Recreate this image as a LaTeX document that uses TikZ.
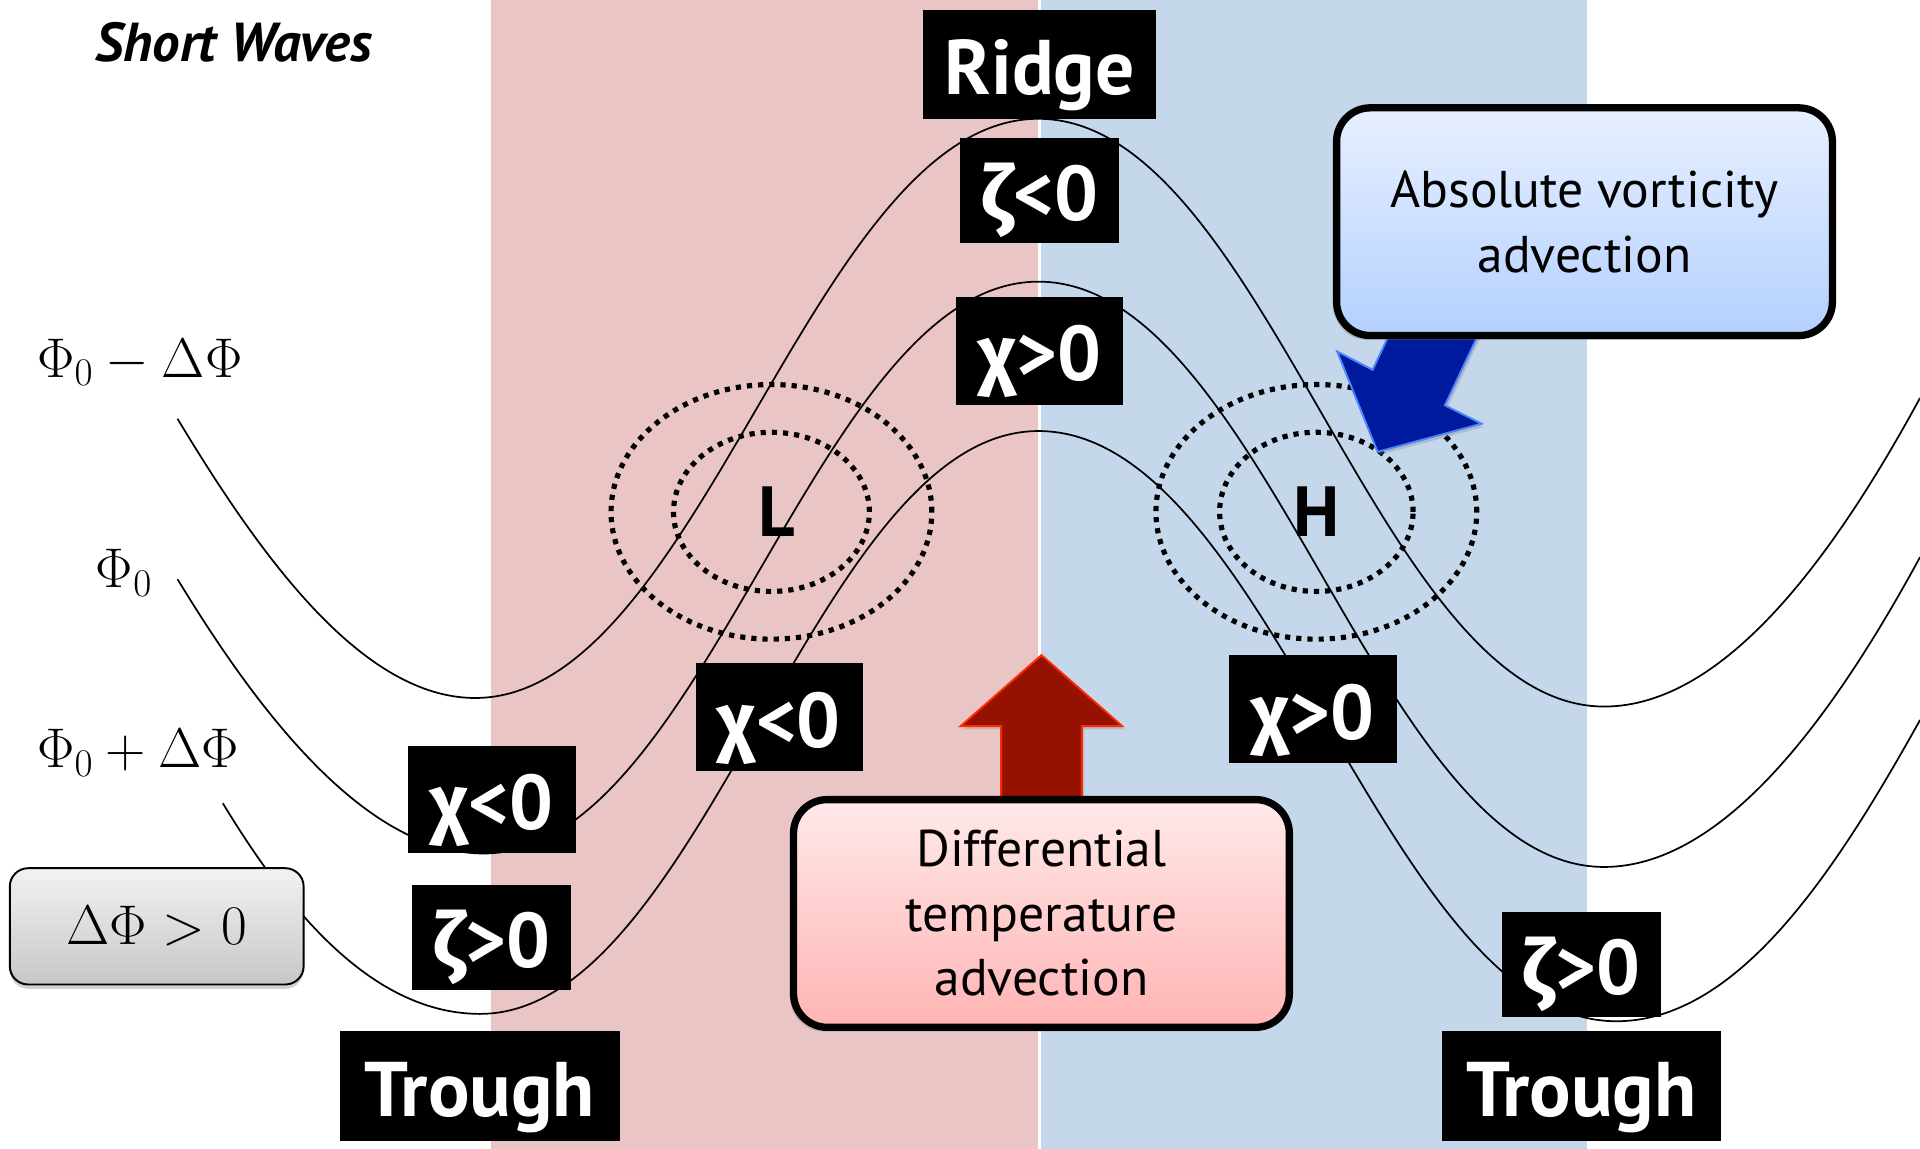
\RequirePackage{fix-cm}
\documentclass[tikz,border=0pt]{standalone}
\usepackage[no-math]{fontspec}
\setmainfont{PT Sans}
\newfontfamily\grk{Fira Sans}
\usetikzlibrary{positioning,shadows}

\definecolor{warmband}{HTML}{EAC5C5}
\definecolor{coldband}{HTML}{C5D7EB}
\definecolor{warmfill}{HTML}{961200}
\definecolor{warmedge}{HTML}{FF2A00}
\definecolor{coldfill}{HTML}{001A9E}
\definecolor{coldedge}{HTML}{4D85FF}
\definecolor{warmtop}{HTML}{FFE9E9}
\definecolor{warmbot}{HTML}{FFB4B4}
\definecolor{coldtop}{HTML}{E8F0FF}
\definecolor{coldbot}{HTML}{B3D0FF}
\tikzset{
  tag/.style={fill=black, text=white, inner sep=0pt, text height=28pt, text depth=0pt,
    font=\fontsize{36}{36}\selectfont\bfseries},
  signtag/.style={tag, minimum width=2.6cm, minimum height=1.72cm},
  chitag/.style={tag, minimum width=2.74cm, minimum height=1.76cm},
  placetag/.style={tag, minimum width=4.56cm, minimum height=1.8cm},
  pressure/.style={font=\fontsize{33}{33}\selectfont\bfseries, inner sep=0pt},
  isobar/.style={line width=2.4pt, dash pattern=on 2.4pt off 2.8pt},
  contour/.style={line width=0.8pt},
  level/.style={font=\fontsize{26}{26}\selectfont, inner sep=0pt, anchor=base west},
  advbox/.style={rectangle, rounded corners=0.55cm, draw=black, line width=3.4pt,
    minimum width=8.1cm, minimum height=3.72cm, align=center,
    font=\fontsize{24}{30}\selectfont,
    drop shadow={opacity=0.35, shadow xshift=-1.5pt, shadow yshift=-2pt}},
  keybox/.style={rectangle, rounded corners=0.3cm, draw=black, line width=0.9pt,
    top color=black!5, bottom color=black!22, minimum width=4.8cm, minimum height=1.9cm,
    font=\fontsize{26}{26}\selectfont,
    drop shadow={opacity=0.35, shadow xshift=0pt, shadow yshift=-2pt}},
  blockarrow/.style={line width=0.9pt, line join=miter,
    drop shadow={opacity=0.3, shadow xshift=1pt, shadow yshift=-1.5pt}},
}

\begin{document}
\begin{tikzpicture}[x=0.02cm, y=-0.02cm]
  \useasboundingbox (0,0) rectangle (1568,938);
  \fill[white] (0,0) rectangle (1568,938);
  % warm and cold sectors
  \fill[warmband] (401,0) rectangle (848,938);
  \fill[coldband] (850,0) rectangle (1296,938);

  % geopotential contours
  \draw[contour] (145,342) .. controls (213,455) and (296,570) .. (388,570)
    .. controls (572,570) and (664,97) .. (848,97)
    .. controls (1033,97) and (1125,577) .. (1310,577)
    .. controls (1410,577) and (1500,450) .. (1568,325);
  \draw[contour] (145,473) .. controls (213,585) and (300,697) .. (395,697)
    .. controls (576,697) and (667,230) .. (848,230)
    .. controls (1033,230) and (1125,708) .. (1310,708)
    .. controls (1410,708) and (1500,580) .. (1568,455);
  \draw[contour] (182,656) .. controls (230,735) and (300,828) .. (392,828)
    .. controls (574,828) and (666,352) .. (848,352)
    .. controls (1037,352) and (1131,834) .. (1320,834)
    .. controls (1420,834) and (1500,710) .. (1568,588);

  \node[level] (lvlhi) at (30,308) {$\Phi_0-\Delta\Phi$};
  \node[level] (lvlmid) at (78,480) {$\Phi_0$};
  \node[level] (lvllo) at (30,627) {$\Phi_0+\Delta\Phi$};
  \node[font=\fontsize{25.5}{25.5}\selectfont\bfseries\itshape, inner sep=0pt, anchor=base west]
    (title) at (78,50) {Short Waves};

  % low and high
  \coordinate (lowc) at (630,418);
  \coordinate (highc) at (1075,418);
  \draw[isobar] (lowc) ellipse [x radius=2.62cm, y radius=2.08cm];
  \draw[isobar] (lowc) ellipse [x radius=1.6cm, y radius=1.3cm];
  \draw[isobar] (highc) ellipse [x radius=2.62cm, y radius=2.08cm];
  \draw[isobar] (highc) ellipse [x radius=1.58cm, y radius=1.3cm];
  \node[pressure] (low) at (634,418) {L};
  \node[pressure] (high) at (1075,418) {H};

  % sign tags
  \node[tag, minimum width=3.8cm, minimum height=1.78cm] (ridge) at (849,52.5) {Ridge};
  \node[signtag, below=0.3cm of ridge] (vortneg) {{\grk ζ}<0};
  \node[chitag, below=0.86cm of vortneg] (divtop) {{\grk χ}>0};
  \node[chitag] (divlow) at (636.5,585.5) {{\grk χ}<0};
  \node[chitag] (divhigh) at (1072,579) {{\grk χ}>0};
  \node[chitag] (divleft) at (401.5,653) {{\grk χ}<0};
  \node[signtag, below=0.5cm of divleft] (vortleft) {{\grk ζ}>0};
  \node[placetag] (troughleft) at (392,887) {Trough};
  \node[signtag] (vortright) at (1291.5,787.5) {{\grk ζ}>0};
  \node[placetag, below=0.22cm of vortright] (troughright) {Trough};

  % forcing boxes and their arrows
  \coordinate (tempfoot) at (850.5,650);
  \draw[blockarrow, draw=warmedge, fill=warmfill] (tempfoot) ++(-33,10) -- ++(0,-67)
    -- ++(-33,0) -- ++(66,-58) -- ++(66,58) -- ++(-33,0) -- ++(0,67) -- cycle;
  \node[advbox, anchor=north, top color=warmtop, bottom color=warmbot] (temp) at (tempfoot)
    {Differential\\temperature\\advection};

  \coordinate (vortfoot) at (1294,277);
  \draw[blockarrow, draw=coldedge, fill=coldfill] (vortfoot) ++(-144,-37) -- ++(-29,62)
    -- ++(-29,-15) -- ++(33,82) -- ++(85,-23) -- ++(-30,-15) -- ++(43,-91) -- cycle;
  \node[advbox, anchor=south, top color=coldtop, bottom color=coldbot] (vort) at (vortfoot)
    {Absolute vorticity\\advection};

  \node[keybox] (thick) at (128,756.5) {$\Delta\Phi>0$};
\end{tikzpicture}
\end{document}
